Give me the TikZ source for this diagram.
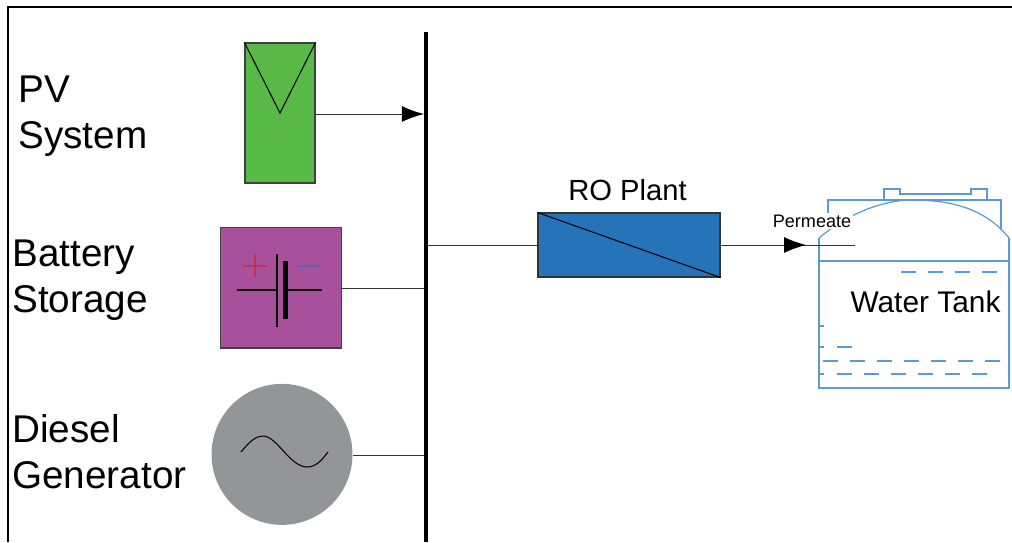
\documentclass[tikz,border=0pt]{standalone}
\usepackage{fontspec}
\setmainfont{Liberation Sans}
\usetikzlibrary{arrows.meta,positioning}
\definecolor{pvgreen}{RGB}{88,185,71}
\definecolor{battpurple}{RGB}{168,80,155}
\definecolor{gengrey}{RGB}{147,149,152}
\definecolor{roblue}{RGB}{38,115,186}
\definecolor{tankblue}{RGB}{91,155,213}
\definecolor{plusred}{RGB}{190,50,90}
\definecolor{minusblue}{RGB}{90,100,170}
\tikzset{
    pvbox/.style={rectangle,draw=black!75,fill=pvgreen,line width=0.6pt,minimum width=1.4cm,minimum height=2.8cm,inner sep=0pt},
    battbox/.style={rectangle,draw=black!75,fill=battpurple,line width=0.6pt,minimum size=2.42cm,inner sep=0pt},
    genbox/.style={circle,fill=gengrey,minimum size=2.82cm,inner sep=0pt},
    robox/.style={rectangle,draw=black!80,fill=roblue,line width=0.6pt,minimum width=3.64cm,minimum height=1.28cm,inner sep=0pt},
    busbar/.style={rectangle,fill=black,minimum width=0.07cm,minimum height=10.2cm,inner sep=0pt},
    mylabel/.style={align=left,font=\fontsize{22}{26.3}\selectfont,inner sep=0pt,anchor=west},
    myline/.style={line width=0.5pt,black!80},
    myarrow/.style={-{Latex[length=0.44cm,width=0.32cm,black]},line width=0.5pt,black!80},
    mytank/.style={line width=0.7pt,tankblue},
    mydash/.style={line width=0.7pt,tankblue,dash pattern=on 0.3cm off 0.24cm}
}
\begin{document}
\begin{tikzpicture}[x=0.02cm,y=-0.02cm]
\useasboundingbox (0,0) rectangle (1012,542);
% frame
\draw[line width=1pt] (8,542) -- (8,7) -- (1012,7);
% bus
\node[busbar] (bus) at (426,287) {};
% sources
\node[pvbox] (pv) at (280,113) {};
\node[battbox, below=0.86cm of pv, xshift=0.02cm] (batt) {};
\node[genbox, below=0.7cm of batt, xshift=0.02cm] (gen) {};
\draw[line width=0.6pt] (pv.north west) -- (pv.center) -- (pv.north east);
% labels
\node[mylabel] (pvlabel) at (18,116.5) {PV\\System};
\node[mylabel] (battlabel) at (12,280) {Battery\\Storage};
\node[mylabel] (genlabel) at (12,452) {Diesel\\Generator};
% battery symbol
\draw[line width=1.5pt] (277,254) -- (277,327);
\draw[line width=3.4pt] (285.5,261) -- (285.5,319);
\draw[line width=0.6pt] (237,290) -- (277,290) (285,290) -- (322,290);
\draw[plusred,line width=0.7pt] (243,266) -- (267,266) (255,254) -- (255,277);
\draw[minusblue,line width=1pt] (297,266) -- (321,266);
% generator wave
\draw[line width=0.6pt] (241,452) .. controls (250,441) and (256,436) .. (263,436) .. controls (277,436) and (290,467) .. (307,467) .. controls (316,467) and (322,460) .. (328,452);
% connectors
\draw[myarrow] (pv.east |- 0,114) -- (bus.west |- 0,114);
\draw[myline] (batt.east |- 0,288) -- (bus.west |- 0,288);
\draw[myline] (gen.east |- 0,455) -- (bus.west |- 0,455);
% RO plant
\node[robox] (ro) at (629,245) {};
\draw[line width=0.6pt] (ro.north west) -- (ro.south east);
\node[font=\fontsize{16.6}{19}\selectfont, inner sep=0pt, above=0.22cm of ro, xshift=-0.03cm] (rolabel) {RO Plant};
\draw[myline] (bus.east |- ro.west) -- (ro.west);
% tank
\draw[mytank] (828,215) -- (828,200) -- (1001,200) -- (1001,230);
\draw[mytank] (1009,238) -- (1009,388) -- (819,388) -- (819,238);
\draw[mytank] (819,238) .. controls (850,212) and (885,200) .. (912,200) .. controls (950,200) and (985,208) .. (1009,238);
\draw[mytank] (819,261) -- (1009,261);
\draw[mytank] (884,200) -- (884,189) -- (900,189) -- (900,194) -- (971,194) -- (971,189) -- (987,189) -- (987,200);
\draw[mydash] (901,272) -- (999,272);
\draw[mydash] (823,361) -- (1002,361);
\draw[mydash] (837,374) -- (988,374);
\draw[mytank] (819,326) -- (824,326) (819,347) -- (824,347) (837,347) -- (852,347) (819,374) -- (824,374);
\node[font=\fontsize{17}{20}\selectfont] (tanklabel) at (925.5,302) {Water Tank};
% permeate
\coordinate (permend) at (855,245);
\draw[myline] (ro.east) -- (permend);
\draw[myarrow] (ro.east) -- (806,245);
\node[font=\fontsize{10.3}{12}\selectfont, fill=white, inner sep=1pt] (permlabel) at (812,221) {Permeate};
\end{tikzpicture}
\end{document}
